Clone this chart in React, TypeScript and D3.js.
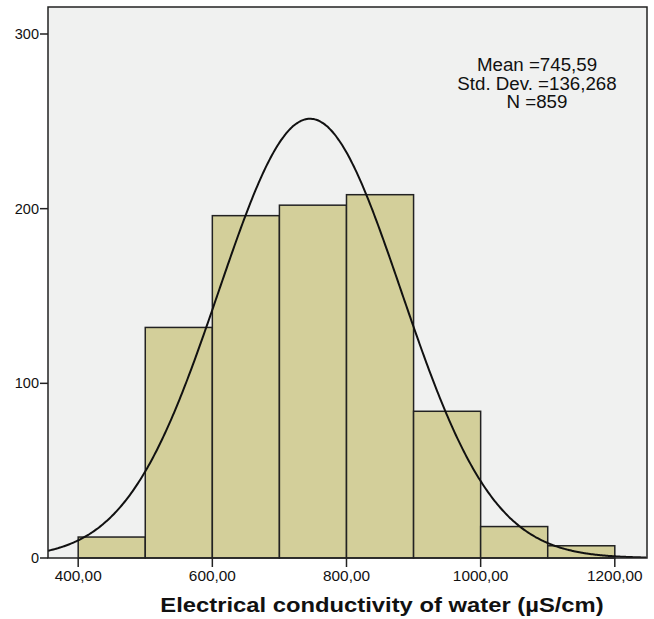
import React from "react";
import * as d3 from "d3";

// Histogram bins (lower edge, upper edge) and counts
const binStarts = [400, 500, 600, 700, 800, 900, 1000, 1100];
const binWidth = 100;
const counts = [12, 132, 196, 202, 208, 84, 18, 7];

// Summary statistics shown in the legend box
const meanValue = 745.59;
const stdDev = 136.268;
const nCount = 859;

const xTicks = [400, 600, 800, 1000, 1200];
const yTicks = [0, 100, 200, 300];
const statLines = ["Mean =745,59", "Std. Dev. =136,268", "N =859"];
const xTitle = "Electrical conductivity of water (µS/cm)";

const W = 654;
const H = 619;
const plot = { left: 48, top: 7, right: 647, bottom: 558 };

const fmtX = (v: number) => v.toFixed(2).replace(".", ",");

export default function App() {
  const x = d3.scaleLinear().domain([355, 1248]).range([plot.left, plot.right]);
  const y = d3.scaleLinear().domain([0, 300]).range([plot.bottom, 34]);

  // Normal density scaled to the histogram's counts
  const scale = (nCount * binWidth) / (stdDev * Math.sqrt(2 * Math.PI));
  const curveXs = d3.range(355, 1248.01, 2);
  const curvePts: [number, number][] = curveXs.map((v) => [
    v,
    scale * Math.exp(-0.5 * ((v - meanValue) / stdDev) ** 2),
  ]);
  const line = d3
    .line<[number, number]>()
    .x((d) => x(d[0]))
    .y((d) => y(d[1]))
    .curve(d3.curveBasis);

  const font = "Arial, 'Liberation Sans', sans-serif";

  return (
    <svg
      width={W}
      height={H}
      style={{ position: "absolute", left: 0, top: 0, background: "#fff" }}
      fontFamily={font}
    >
      <defs>
        <clipPath id="plotClip">
          <rect
            x={plot.left}
            y={plot.top}
            width={plot.right - plot.left}
            height={plot.bottom - plot.top}
          />
        </clipPath>
      </defs>
      <rect
        x={plot.left}
        y={plot.top}
        width={plot.right - plot.left}
        height={plot.bottom - plot.top}
        fill="#f0f1f0"
      />
      {binStarts.map((b, i) => (
        <rect
          key={b}
          x={x(b)}
          y={y(counts[i])}
          width={x(b + binWidth) - x(b)}
          height={y(0) - y(counts[i])}
          fill="#d3cf9a"
          stroke="#222"
          strokeWidth={1.5}
        />
      ))}
      <path
        d={line(curvePts) || ""}
        fill="none"
        stroke="#111"
        strokeWidth={2}
        clipPath="url(#plotClip)"
      />
      <rect
        x={plot.left}
        y={plot.top}
        width={plot.right - plot.left}
        height={plot.bottom - plot.top}
        fill="none"
        stroke="#222"
        strokeWidth={1.5}
      />
      {/* y axis ticks */}
      {yTicks.map((t) => (
        <g key={t}>
          <line x1={plot.left - 8} x2={plot.left} y1={y(t)} y2={y(t)} stroke="#222" strokeWidth={1.5} />
          <text x={plot.left - 9} y={y(t) + 5} textAnchor="end" fontSize={14.5} fill="#111">
            {t}
          </text>
        </g>
      ))}
      {/* x axis ticks */}
      {xTicks.map((t) => (
        <g key={t}>
          <line x1={x(t)} x2={x(t)} y1={plot.bottom} y2={plot.bottom + 9} stroke="#222" strokeWidth={1.5} />
          <text
            transform={`translate(${x(t)},${plot.bottom + 23}) scale(1.06,1)`}
            textAnchor="middle"
            fontSize={14.5}
            fill="#111"
          >
            {fmtX(t)}
          </text>
        </g>
      ))}
      {statLines.map((s, i) => (
        <text
          key={s}
          transform={`translate(537,${71 + i * 18.5}) scale(1.07,1)`}
          textAnchor="middle"
          fontSize={17.5}
          fill="#111"
        >
          {s}
        </text>
      ))}
      <text
        transform="translate(382,612) scale(1.22,1)"
        textAnchor="middle"
        fontSize={19.5}
        fontWeight="bold"
        fill="#111"
      >
        {xTitle}
      </text>
    </svg>
  );
}
